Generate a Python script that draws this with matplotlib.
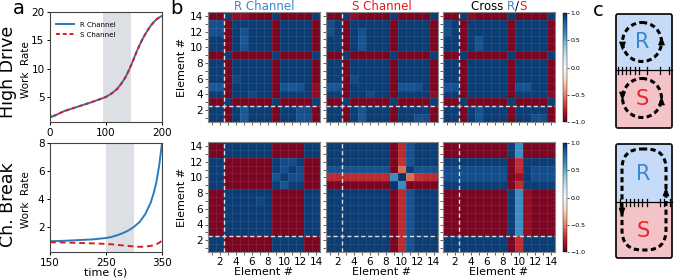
import numpy as np
import matplotlib
matplotlib.use('Agg')
import matplotlib.pyplot as plt
from matplotlib.patches import Rectangle, FancyBboxPatch, Circle, Polygon

# ---------------- data ----------------
# Panel a (top): High Drive
hd_time = [0, 1, 5, 10, 25, 50, 75, 100, 110, 120, 130, 135, 140, 145, 150,
           155, 160, 165, 170, 175, 180, 185, 190, 195, 200]
hd_R = [2.2, 1.5, 1.7, 1.9, 2.6, 3.4, 4.2, 5.1, 5.7, 6.5, 7.8, 8.6, 9.6, 10.7,
        11.9, 13.1, 14.2, 15.2, 16.1, 16.9, 17.6, 18.2, 18.7, 19.05, 19.3]
hd_S = [2.2, 1.5, 1.7, 1.9, 2.6, 3.4, 4.2, 5.1, 5.7, 6.5, 7.8, 8.6, 9.6, 10.7,
        11.9, 13.1, 14.2, 15.2, 16.1, 16.9, 17.6, 18.2, 18.7, 19.05, 19.3]
hd_shade = (95, 145)

# Panel a (bottom): Channel break
br_time = [150, 175, 200, 225, 250, 260, 270, 280, 290, 300, 310, 320, 330,
           335, 340, 345, 350]
br_R = [0.97, 1.0, 1.05, 1.1, 1.2, 1.28, 1.4, 1.55, 1.74, 2.0, 2.35, 2.9,
        3.75, 4.4, 5.2, 6.4, 8.0]
br_S = [0.9, 0.88, 0.85, 0.82, 0.78, 0.75, 0.71, 0.67, 0.63, 0.6, 0.57, 0.59,
        0.64, 0.69, 0.76, 0.86, 1.02]
br_shade = (250, 300)

# Panel b: correlation matrices (elements 1..14)
elements = list(range(1, 15))
sign_hd = [1, 1, -1, 1, 1, 1, 1, 1, -1, 1, 1, 1, 1, -1]
sign_br_R = [1, 1, -1, -1, -1, -1, -1, -1, 1, 1, 1, 1, -1, -1]
sign_br_S = [1, 1, 1, 1, 1, 1, 1, 1, -1, -1, 1, 1, 1, 1]
base_mag = 0.94
# magnitude overrides (row element, col element, |r|)
mag_hd_R = [(5, 1, 0.8), (5, 2, 0.85), (12, 1, 0.87), (13, 1, 0.88), (12, 2, 0.88),
            (13, 2, 0.89), (10, 5, 0.86), (11, 5, 0.87), (1, 5, 0.84), (5, 10, 0.86),
            (5, 11, 0.85), (5, 12, 0.87), (14, 4, 0.89), (14, 5, 0.89), (6, 4, 0.9)]
mag_hd_S = [(5, 1, 0.81), (5, 2, 0.86), (12, 1, 0.88), (13, 1, 0.89), (10, 5, 0.86),
            (11, 5, 0.87), (1, 5, 0.85), (5, 10, 0.86), (5, 11, 0.86), (5, 12, 0.88),
            (14, 4, 0.89), (6, 4, 0.9)]
mag_hd_X = [(5, 1, 0.82), (5, 2, 0.87), (12, 1, 0.88), (13, 1, 0.89), (10, 5, 0.86),
            (11, 5, 0.88), (1, 5, 0.86), (5, 10, 0.87), (5, 11, 0.87), (14, 4, 0.9)]
mag_br_R = [(10, 9, 0.86), (11, 10, 0.87), (10, 12, 0.89), (11, 12, 0.89),
            (10, 11, 0.88), (7, 7, 0.91)]
mag_br_S = ([(10, j, 0.75) for j in [1, 2, 3, 4, 5, 6, 7, 8, 13, 14]]
            + [(10, 12, 0.72), (10, 11, 0.56), (10, 9, 0.64), (9, 9, 0.97), (10, 10, 0.97)]
            + [(11, j, 0.87) for j in [1, 2, 3, 4, 5, 6, 7, 8, 12, 13, 14]])
mag_br_X = ([(i, 10, 0.62) for i in [3, 4, 5, 6, 7, 8, 13, 14]]
            + [(i, 10, 0.74) for i in [1, 2, 9, 11, 12]] + [(10, 10, 0.86)]
            + [(i, 11, 0.88) for i in [3, 4, 5, 6, 7, 8]]
            + [(10, j, 0.88) for j in [1, 2, 3, 4, 5, 6, 7, 8, 12, 13, 14]]
            + [(11, j, 0.89) for j in [1, 2, 3, 4, 5, 6, 7, 8, 12, 13, 14]])


def corr(sr, sc, overrides, sym=True):
    sr = np.array(sr, float)
    sc = np.array(sc, float)
    mag = np.full((14, 14), base_mag)
    for i, j, v in overrides:
        mag[i - 1, j - 1] = v
        if sym:
            mag[j - 1, i - 1] = v
    return np.outer(sr, sc) * mag


mats = [
    [corr(sign_hd, sign_hd, mag_hd_R), corr(sign_hd, sign_hd, mag_hd_S),
     corr(sign_hd, sign_hd, mag_hd_X)],
    [corr(sign_br_R, sign_br_R, mag_br_R), corr(sign_br_S, sign_br_S, mag_br_S),
     corr(sign_br_R, sign_br_S, mag_br_X, sym=False)],
]

# ---------------- figure ----------------
W, H = 674, 280
fig = plt.figure(figsize=(W / 100, H / 100), dpi=100)
plt.rcParams['font.family'] = ['DejaVu Sans']


def rect(x0, y0, x1, y1):
    return [x0 / W, 1 - y1 / H, (x1 - x0) / W, (y1 - y0) / H]


BLUE = '#2b7bba'
RED = '#e31a1c'
SHADE = '#dcdfe4'

# ---- panel a ----
ax1 = fig.add_axes(rect(50, 12, 162, 122))
ax1.axvspan(*hd_shade, color=SHADE, lw=0)
ax1.plot(hd_time, hd_R, color=BLUE, lw=1.4, label='R Channel')
ax1.plot(hd_time, hd_S, color=RED, lw=1.4, ls=(0, (2, 1.5)), label='S Channel')
ax1.set_xlim(0, 200)
ax1.set_ylim(0.7, 20)
ax1.set_xticks([0, 100, 200])
ax1.set_yticks([5, 10, 15, 20])
ax1.legend(loc='upper left', frameon=False, fontsize=5, handlelength=2.6,
           bbox_to_anchor=(0.0, 0.97), labelspacing=0.6)

ax2 = fig.add_axes(rect(50, 143, 162, 252))
ax2.axvspan(*br_shade, color=SHADE, lw=0)
ax2.plot(br_time, br_R, color=BLUE, lw=1.4)
ax2.plot(br_time, br_S, color=RED, lw=1.4, ls=(0, (3, 2)))
ax2.set_xlim(150, 350)
ax2.set_ylim(0.2, 8)
ax2.set_xticks([150, 250, 350])
ax2.set_yticks([2, 4, 6, 8])
ax2.set_xlabel('time (s)', fontsize=8, labelpad=0)

for ax in (ax1, ax2):
    ax.tick_params(labelsize=7.5, length=2.5, width=0.7, pad=1.5)
    for sp in ax.spines.values():
        sp.set_linewidth(0.8)
        sp.set_color('#444444')

fig.text(26 / W, 1 - 70 / H, 'Work  Rate', rotation=90, fontsize=7.5,
         ha='center', va='center')
fig.text(26 / W, 1 - 200 / H, 'Work  Rate', rotation=90, fontsize=7.5,
         ha='center', va='center')
fig.text(8 / W, 1 - 72 / H, 'High Drive', rotation=90, fontsize=12.5,
         ha='center', va='center')
fig.text(8 / W, 1 - 205 / H, 'Ch. Break', rotation=90, fontsize=12.5,
         ha='center', va='center')

# ---- panel b ----
hm_lefts = [208, 325.5, 443]
hm_w = 112
rows_y = [(12, 122), (142, 252)]
tick_labels = [str(e) if e % 2 == 0 else '' for e in elements]
for r, (y0, y1) in enumerate(rows_y):
    for c in range(3):
        ax = fig.add_axes(rect(hm_lefts[c], y0, hm_lefts[c] + hm_w, y1))
        im = ax.imshow(mats[r][c], cmap='RdBu', vmin=-1, vmax=1, origin='lower',
                       extent=(0.5, 14.5, 0.5, 14.5), aspect='auto',
                       interpolation='nearest')
        for k in range(1, 14):
            ax.axhline(k + 0.5, color='white', lw=0.5, alpha=0.1)
            ax.axvline(k + 0.5, color='white', lw=0.5, alpha=0.1)
        ax.axvline(2.5, color='#dddddd', lw=1.0, ls=(0, (3, 2)))
        ax.axhline(2.5, color='#dddddd', lw=1.0, ls=(0, (3, 2)))
        ax.set_xlim(0.5, 14.5)
        ax.set_ylim(0.5, 14.5)
        ax.set_xticks(elements)
        ax.set_yticks(elements)
        if r == 1:
            ax.set_xticklabels(tick_labels)
            ax.set_xlabel('Element #', fontsize=8, labelpad=0)
        else:
            ax.set_xticklabels([])
        if c == 0:
            ax.set_yticklabels(tick_labels)
            ax.set_ylabel('Element #', fontsize=8, labelpad=2)
        else:
            ax.set_yticklabels([])
        ax.tick_params(labelsize=7.5, length=2.2, width=0.6, pad=1.2,
                       color='#444444')
        for sp in ax.spines.values():
            sp.set_linewidth(0.8)
            sp.set_color('#888888')
    cax = fig.add_axes(rect(563, y0 + 1, 567, y1))
    cb = fig.colorbar(im, cax=cax, ticks=[-1, -0.5, 0, 0.5, 1])
    cb.set_ticklabels(['\u22121.0', '\u22120.5', '0.0', '0.5', '1.0'])
    cb.ax.tick_params(labelsize=4.5, length=1.5, width=0.5, pad=1)
    cb.outline.set_linewidth(0.3)

# titles
TY = 1 - 9.5 / H
fig.text((hm_lefts[0] + hm_w / 2) / W, TY, 'R Channel', color='#3a87c9',
         fontsize=8.5, ha='center', va='baseline')
fig.text((hm_lefts[1] + hm_w / 2) / W, TY, 'S Channel', color=RED,
         fontsize=8.5, ha='center', va='baseline')
t1 = fig.text(470 / W, TY, 'Cross ', color='black', fontsize=8.5,
              ha='left', va='baseline')
t2 = fig.text(0, 0, 'R', color='#3a87c9', fontsize=8.5, ha='left', va='bottom')
t3 = fig.text(0, 0, '/', color='black', fontsize=8.5, ha='left', va='bottom')
t4 = fig.text(0, 0, 'S', color=RED, fontsize=8.5, ha='left', va='bottom')
fig.canvas.draw()
ren = fig.canvas.get_renderer()
x = t1.get_window_extent(ren).x1
by = t1.get_window_extent(ren).y0
pieces = [t2, t3, t4]
for t in pieces:
    t.set_position((x / W, by / H))
    x += t.get_window_extent(ren).width
total = x - t1.get_window_extent(ren).x0
center = hm_lefts[2] + hm_w / 2
start = center - total / 2
shift = start - t1.get_window_extent(ren).x0
t1.set_position(((470 + shift) / W, TY))
for t in pieces:
    px, py = t.get_position()
    t.set_position((px + shift / W, py))

# panel labels
fig.text(19 / W, 1 - 9 / H, 'a', fontsize=14, ha='center', va='center')
fig.text(176 / W, 1 - 8 / H, 'b', fontsize=14, ha='center', va='center')
fig.text(598 / W, 1 - 10 / H, 'c', fontsize=14, ha='center', va='center')

# ---- panel c ----
axc = fig.add_axes([600 / W, 0, 74 / W, 1])
axc.set_xlim(600, 674)
axc.set_ylim(280, 0)
axc.axis('off')
LBLUE = '#c6dbf7'
PINK = '#f4c3c8'
DASH = (0, (1.7, 1.1))


def arrow_down(x, y):
    axc.add_patch(Polygon([(x - 3, y - 4), (x + 3, y - 4), (x, y + 4)],
                          closed=True, fc='black', ec='black', lw=0.5, zorder=5))


def arrow_up(x, y):
    axc.add_patch(Polygon([(x - 3, y + 4), (x + 3, y + 4), (x, y - 4)],
                          closed=True, fc='black', ec='black', lw=0.5, zorder=5))


def barrier(y, xs):
    axc.plot([616, 672], [y, y], color='black', lw=0.9, zorder=3)
    for xx in xs:
        axc.plot([xx, xx], [y - 3.5, y + 3.5], color='black', lw=0.9, zorder=3)


for (top, mid, bot) in [(14, 70, 128), (144, 202, 258)]:
    axc.add_patch(Rectangle((616, top), 56, mid - top, fc=LBLUE, ec='none'))
    axc.add_patch(Rectangle((616, mid), 56, bot - mid, fc=PINK, ec='none'))
    axc.add_patch(FancyBboxPatch((616, top), 56, bot - top,
                                 boxstyle='round,pad=0,rounding_size=2',
                                 fc='none', ec='black', lw=1.2, zorder=4))

# top: two separate loops
axc.add_patch(Circle((642, 42), 19.5, fill=False, ec='black', lw=2.2, ls=DASH, zorder=4))
axc.add_patch(Circle((642, 98), 19.5, fill=False, ec='black', lw=2.2, ls=DASH, zorder=4))
arrow_down(622.5, 46)
arrow_up(661.5, 41)
arrow_down(622.5, 96)
arrow_up(661.5, 101)
barrier(70, [618, 622, 626, 630, 635, 639, 647, 660, 669])
axc.text(642, 42, 'R', color='#3a87c9', fontsize=15, ha='center', va='center', zorder=6)
axc.text(642, 99, 'S', color='#e8262a', fontsize=15, ha='center', va='center', zorder=6)

# bottom: one big loop across the channel
barrier(202, [620, 626, 630, 634, 638, 642, 647, 660, 664, 670])
axc.add_patch(FancyBboxPatch((622, 149), 44, 101,
                             boxstyle='round,pad=0,rounding_size=20',
                             fill=False, ec='black', lw=2.2, ls=DASH, zorder=4))
arrow_down(622, 212)
arrow_up(666, 192)
axc.text(643, 174, 'R', color='#3a87c9', fontsize=15, ha='center', va='center', zorder=6)
axc.text(643, 231, 'S', color='#e8262a', fontsize=15, ha='center', va='center', zorder=6)

fig.savefig('out.png', dpi=100)
